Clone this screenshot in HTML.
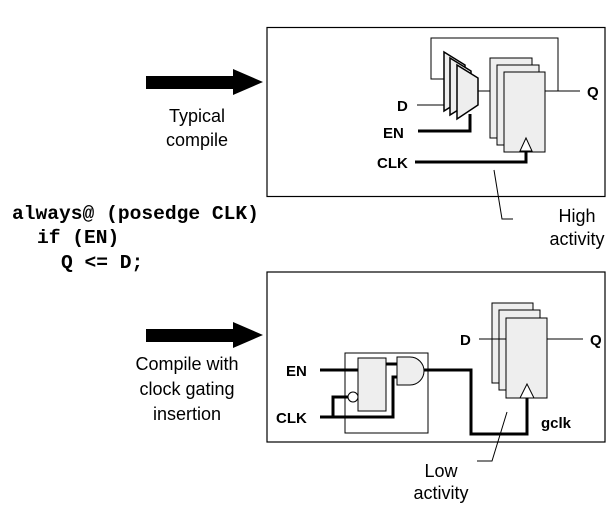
<!DOCTYPE html>
<html><head><style>
html,body{margin:0;padding:0;background:#fff;}
svg{display:block;}
text{font-family:"Liberation Sans",Arial,sans-serif;}
.b{font-weight:bold;font-size:15px;}
.n{font-size:18px;}
.m{font-family:"Liberation Mono","Courier New",monospace;font-weight:bold;font-size:19.6px;}
</style></head><body>
<svg width="611" height="507" viewBox="0 0 611 507" xmlns="http://www.w3.org/2000/svg">
<polygon points="146,76 233,76 233,69 263,82 233,95 233,89 146,89" fill="#000"/>
<polygon points="146,329 233,329 233,322 263,335 233,348 233,342 146,342" fill="#000"/>
<text class="n" x="197" y="122" text-anchor="middle">Typical</text>
<text class="n" x="197" y="146" text-anchor="middle">compile</text>
<text class="n" x="187" y="370" text-anchor="middle">Compile with</text>
<text class="n" x="187" y="395" text-anchor="middle">clock gating</text>
<text class="n" x="187" y="420" text-anchor="middle">insertion</text>
<text class="m" x="12" y="219" xml:space="preserve">always@ (posedge CLK)</text>
<text class="m" x="37" y="243" xml:space="preserve">if (EN)</text>
<text class="m" x="61" y="268" xml:space="preserve">Q &lt;= D;</text>

<rect x="267" y="27.5" width="338" height="169" fill="none" stroke="#000" stroke-width="1.2"/>
<polyline points="444,79 431,79 431,38 558,38 558,91" fill="none" stroke="#000" stroke-width="1"/>
<line x1="545" y1="91" x2="580" y2="91" stroke="#000"/>
<line x1="478" y1="91" x2="504" y2="91" stroke="#000"/>
<line x1="417" y1="105" x2="457" y2="105" stroke="#000"/>
<polygon points="444,52 465,65 465,98 444,111" fill="#eee" stroke="#000" stroke-width="1.5"/>
<polygon points="450,58 471,71 471,102 450,115" fill="#eee" stroke="#000" stroke-width="1.5"/>
<polygon points="457,65 478,78 478,105 457,119" fill="#eee" stroke="#000" stroke-width="1.5"/>
<polyline points="418,131 470,131 470,114" fill="none" stroke="#000" stroke-width="3"/>
<rect x="490" y="58" width="42" height="80" fill="#eee" stroke="#000"/>
<rect x="497" y="65" width="42" height="80" fill="#eee" stroke="#000"/>
<rect x="504" y="72" width="41" height="80" fill="#eee" stroke="#000"/>
<polyline points="415,162 526,162 526,145" fill="none" stroke="#000" stroke-width="3"/>
<polygon points="520,151 526,138 532,151" fill="#fff" stroke="#000"/>
<text class="b" x="397" y="111">D</text>
<text class="b" x="383" y="138">EN</text>
<text class="b" x="377" y="168">CLK</text>
<text class="b" x="587" y="97">Q</text>
<polyline points="494,170 502,219 513,219" fill="none" stroke="#000"/>
<text class="n" x="577" y="222" text-anchor="middle">High</text>
<text class="n" x="577" y="245" text-anchor="middle">activity</text>

<rect x="267" y="272" width="338" height="170" fill="none" stroke="#000" stroke-width="1.2"/>
<rect x="345" y="353" width="83" height="80" fill="none" stroke="#000"/>
<line x1="320" y1="370" x2="358" y2="370" stroke="#000" stroke-width="3"/>
<rect x="358" y="358" width="28" height="53" fill="#eee" stroke="#000"/>
<line x1="386" y1="364" x2="397" y2="364" stroke="#000" stroke-width="3"/>
<polyline points="320,417 393,417 393,377 397,377" fill="none" stroke="#000" stroke-width="3"/>
<polyline points="333,417 333,397 348,397" fill="none" stroke="#000" stroke-width="3"/>
<circle cx="353" cy="397" r="5" fill="#fff" stroke="#000"/>
<path d="M397,357 L410,357 A14,14 0 0 1 410,385 L397,385 Z" fill="#eee" stroke="#000"/>
<polyline points="424,370 471,370 471,434 527,434 527,398" fill="none" stroke="#000" stroke-width="3"/>
<rect x="492" y="303" width="41" height="80" fill="#eee" stroke="#000"/>
<rect x="499" y="310" width="41" height="80" fill="#eee" stroke="#000"/>
<rect x="506" y="318" width="41" height="80" fill="#eee" stroke="#000"/>
<polygon points="520,398 527,384 534,398" fill="#fff" stroke="#000"/>
<line x1="479" y1="339" x2="506" y2="339" stroke="#000"/>
<line x1="547" y1="339" x2="583" y2="339" stroke="#000"/>
<text class="b" x="460" y="345">D</text>
<text class="b" x="590" y="345">Q</text>
<text class="b" x="286" y="376">EN</text>
<text class="b" x="276" y="423">CLK</text>
<text class="b" x="541" y="428">gclk</text>
<polyline points="507,412 492,461 477,461" fill="none" stroke="#000"/>
<text class="n" x="441" y="477" text-anchor="middle">Low</text>
<text class="n" x="441" y="499" text-anchor="middle">activity</text>
</svg>
</body></html>
